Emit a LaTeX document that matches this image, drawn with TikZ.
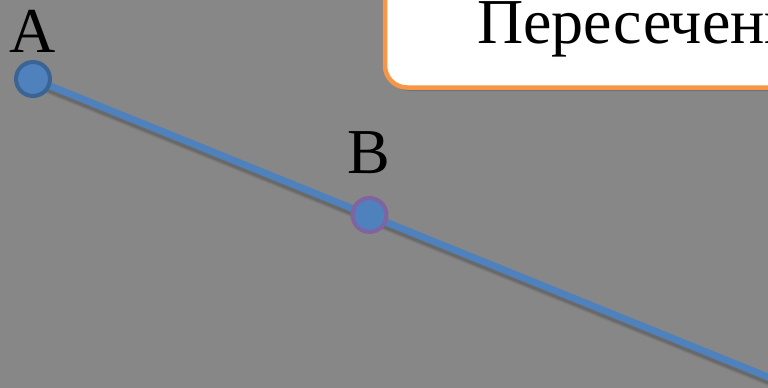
\documentclass[tikz,border=0pt]{standalone}
\usepackage{fontspec}
\setmainfont{Liberation Serif}
\definecolor{bggray}{HTML}{878787}
\definecolor{lineblue}{HTML}{4F81BD}
\definecolor{darkblue}{HTML}{3A6494}
\definecolor{purp}{HTML}{8064A2}
\definecolor{orng}{HTML}{F79646}
\tikzset{pt/.style={circle,inner sep=0pt,minimum size=34pt,line width=4pt,fill=lineblue},
lbl/.style={anchor=base,inner sep=0pt,font=\fontsize{64}{70}\selectfont}}
\begin{document}
\begin{tikzpicture}[x=1pt,y=-1pt]
\useasboundingbox(0,0)rectangle(768,388);
\clip(0,0)rectangle(768,388);
\fill[bggray](0,0)rectangle(768,388);
\fill[black,opacity=.15,rounded corners=22pt](388,-40)rectangle(804,91);
\draw[orng,line width=4.5pt,fill=white,rounded corners=22pt](385,-40)rectangle(800,87.5);
\node[lbl,anchor=base west](title)at(477,43){Пересечение};
\coordinate(pA)at(33,79);\coordinate(pB)at(369.5,215);\coordinate(pE)at(800,390);
\foreach\w/\o in{11/.08,8/.15}{
\draw[black,opacity=\o,line width=\w pt](33,82)--(800,393);}
\draw[lineblue,line width=7pt](pA)--(pE);
\node[pt,draw=darkblue](A)at(pA){};
\node[pt,draw=purp](B)at(pB){};
\node[lbl](labA)at(33,52){A};
\node[lbl](labB)at(369,173){B};
\end{tikzpicture}
\end{document}
